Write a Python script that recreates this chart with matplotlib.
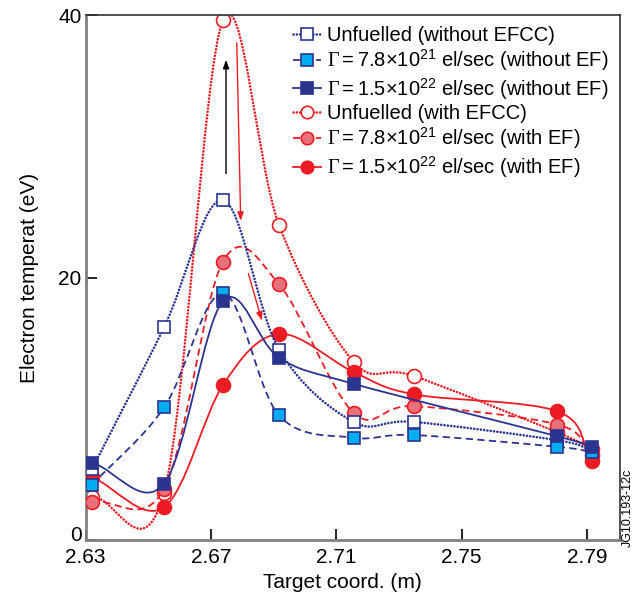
#!/usr/bin/env python3
"""
Electron temperature vs target coordinate, with / without EFCC.
Smooth curves through the measured points (Catmull-Rom -> Bezier path).
"""

import numpy as np
import matplotlib
matplotlib.use("Agg")
import matplotlib.pyplot as plt
from matplotlib.path import Path
from matplotlib.patches import PathPatch
from matplotlib.lines import Line2D
from matplotlib.transforms import ScaledTranslation


# ============================================================
# DATA
# ============================================================

x_pos = [2.632, 2.655, 2.6738, 2.6917, 2.7155, 2.7347, 2.7806, 2.7916]

# without EFCC (blue)
unf_no_ef = [5.4, 16.2, 25.9, 14.5, 9.0, 9.0, 7.6, 6.8]
g78_no_ef = [4.2, 10.1, 18.8, 9.5, 7.8, 8.0, 7.1, 6.7]
g15_no_ef_x = [2.632, 2.655, 2.6738, 2.6917, 2.7155, 2.7806, 2.7916]
g15_no_ef = [5.9, 4.3, 18.2, 13.9, 11.9, 7.9, 7.1]

# with EFCC (red)
unf_ef = [3.3, 3.6, 39.6, 24.0, 13.6, 12.5, 8.2, 6.9]
g78_ef = [2.9, 3.9, 21.2, 19.5, 9.7, 10.2, 8.8, 6.5]
g15_ef = [4.8, 2.5, 11.8, 15.7, 12.8, 11.1, 9.8, 6.0]

labels = [
    "Unfuelled (without EFCC)",
    r"$\mathsf{\Gamma} = 7.8{\times}10^{21}$ el/sec (without EF)",
    r"$\mathsf{\Gamma} = 1.5{\times}10^{22}$ el/sec (without EF)",
    "Unfuelled (with EFCC)",
    r"$\mathsf{\Gamma} = 7.8{\times}10^{21}$ el/sec (with EF)",
    r"$\mathsf{\Gamma} = 1.5{\times}10^{22}$ el/sec (with EF)",
]

NAVY = "#2b3590"
CYAN = "#00aeef"
RED = "#ed1c24"
PINK = "#e8707a"

DOT = (0, (0.01, 1.25))
DASH = (0, (4, 2.4))
LW = 1.3
LW_DOT = 1.9


# ============================================================
# HELPERS
# ============================================================

def smooth_path(x, y):
    """Catmull-Rom spline through the points, as cubic Bezier path."""
    p = np.column_stack([x, y]).astype(float)
    n = len(p)
    tang = np.zeros_like(p)
    tang[0] = p[1] - p[0]
    tang[-1] = p[-1] - p[-2]
    for i in range(1, n - 1):
        tang[i] = (p[i + 1] - p[i - 1]) / 2.0
    verts = [p[0]]
    codes = [Path.MOVETO]
    for i in range(n - 1):
        verts += [p[i] + tang[i] / 3.0, p[i + 1] - tang[i + 1] / 3.0, p[i + 1]]
        codes += [Path.CURVE4] * 3
    return Path(verts, codes)


def draw_series(ax, x, y, color, ls, mfc, mec, marker, ms, z):
    lw = LW_DOT if ls == DOT else LW
    patch = PathPatch(smooth_path(x, y), fill=False, edgecolor=color,
                      linewidth=lw, linestyle=ls, zorder=z)
    if ls == DOT:
        patch.set_capstyle("round")
    ax.add_patch(patch)
    ax.plot(x, y, linestyle="none", marker=marker, markersize=ms,
            markerfacecolor=mfc, markeredgecolor=mec, markeredgewidth=1.2,
            zorder=z + 0.5)
    handle = Line2D([], [], color=color, linestyle=ls, linewidth=lw,
                    marker=marker, markersize=ms - 1, markerfacecolor=mfc,
                    markeredgecolor=mec, markeredgewidth=1.2)
    if ls == DOT:
        handle.set_dash_capstyle("round")
    return handle


# ============================================================
# PLOT
# ============================================================

plt.rcParams["font.family"] = ["Liberation Sans", "DejaVu Sans"]
plt.rcParams["mathtext.fontset"] = "custom"
plt.rcParams["mathtext.rm"] = "Liberation Sans"
plt.rcParams["mathtext.it"] = "Liberation Sans:italic"
plt.rcParams["mathtext.sf"] = "Liberation Serif"   # serif Gamma

fig = plt.figure(figsize=(6.35, 6.01), dpi=100)
ax = fig.add_axes([0.135, 0.1015, 0.841, 0.8735])

h = []
h.append(draw_series(ax, x_pos, unf_no_ef, NAVY, DOT, "white", NAVY, "s", 9, 5))
h.append(draw_series(ax, x_pos, g78_no_ef, NAVY, DASH, CYAN, NAVY, "s", 9, 6))
h.append(draw_series(ax, g15_no_ef_x, g15_no_ef, NAVY, "-", NAVY, NAVY, "s", 9, 7))
h.append(draw_series(ax, x_pos, unf_ef, RED, DOT, "white", RED, "o", 10, 2))
h.append(draw_series(ax, x_pos, g78_ef, RED, DASH, PINK, RED, "o", 10, 3))
h.append(draw_series(ax, x_pos, g15_ef, RED, "-", RED, RED, "o", 10, 4))

# arrows
ax.annotate("", xy=(2.6748, 36.8), xytext=(2.6748, 27.7),
            arrowprops=dict(arrowstyle="-|>,head_length=0.5,head_width=0.18",
                            color="black", lw=1.0))
ax.annotate("", xy=(2.6795, 24.1), xytext=(2.6782, 38.1),
            arrowprops=dict(arrowstyle="-|>,head_length=0.5,head_width=0.18",
                            color=RED, lw=1.0))
ax.annotate("", xy=(2.6865, 16.5), xytext=(2.6817, 20.5),
            arrowprops=dict(arrowstyle="-|>,head_length=0.5,head_width=0.18",
                            color=RED, lw=1.0))

ax.set_xlim(2.63, 2.8005)
ax.set_ylim(0, 40)
ax.set_xticks([2.63, 2.67, 2.71, 2.75, 2.79])
ax.set_xticklabels(["2.63", "2.67", "2.71", "2.75", "2.79"])
ax.set_yticks([0, 20, 40])
ax.tick_params(direction="in", length=8, width=1.2, labelsize=15, pad=3)
ax.tick_params(axis="x", pad=6)

# lift the "0" label a little so it clears "2.63"
zero_lbl = ax.get_yticklabels()[0]
zero_lbl.set_transform(zero_lbl.get_transform()
                       + ScaledTranslation(0, 5 / 72, fig.dpi_scale_trans))

for side in ["left", "bottom"]:
    ax.spines[side].set_color("#808080")
    ax.spines[side].set_linewidth(2.0)
for side in ["top", "right"]:
    ax.spines[side].set_color("#333333")
    ax.spines[side].set_linewidth(1.2)

ax.set_xlabel("Target coord. (m)", fontsize=15)
ax.xaxis.set_label_coords(0.481, -0.062)
ax.set_ylabel("Electron temperat (eV)", fontsize=15, labelpad=14)

ax.legend(h, labels, loc="upper right", frameon=False, fontsize=14.5,
          handlelength=1.4, handletextpad=0.3, labelspacing=0.12,
          borderaxespad=0.15, numpoints=1)

fig.text(0.988, 0.155, "JG10.193-12c", rotation=90, fontsize=9,
         ha="center", va="center")

fig.savefig("out.png", dpi=100)
